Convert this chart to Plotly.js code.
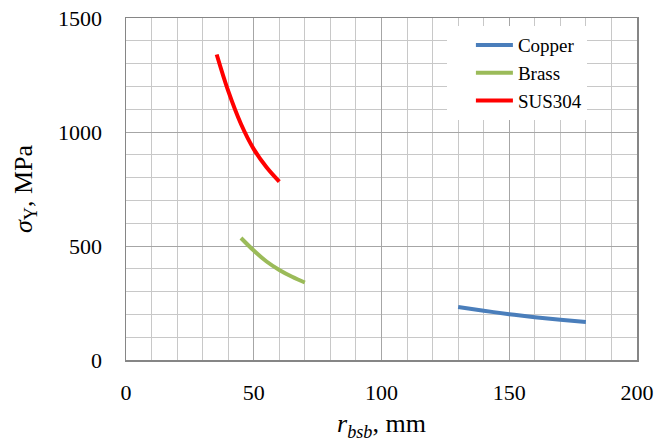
<!DOCTYPE html>
<html><head><meta charset="utf-8">
<script src="https://cdn.plot.ly/plotly-3.0.1.min.js"></script>
<style>body{margin:0;background:#fff}#c{width:657px;height:444px}</style>
</head><body><div id="c"></div>
<script>
const seriesNames = ["Copper", "Brass", "SUS304"];
const copperX = [130, 140, 150, 160, 170, 180];
const copperY = [232, 216, 201, 188, 177, 167];
const brassX = [45, 50, 55, 60, 65, 70];
const brassY = [535, 480, 432, 395, 365, 340];
const susX = [35.5, 40, 45, 50, 55, 60];
const susY = [1340, 1180, 1035, 925, 845, 782];
const xTicks = [0, 50, 100, 150, 200];
const yTicks = [0, 500, 1000, 1500];

const colors = ["#4a7ebb", "#9bbb59", "#ff0000"];
const xs = [copperX, brassX, susX], ys = [copperY, brassY, susY];
const data = xs.map((x, i) => ({
  x: x, y: ys[i], name: seriesNames[i], type: "scatter", mode: "lines",
  line: {color: colors[i], width: 4, shape: "spline"}
}));
const FAM = "Liberation Serif";
const f = (s) => ({family: FAM, size: s, color: "#000"});
const layout = {
  width: 657, height: 444,
  margin: {l: 126, r: 20, t: 18, b: 84},
  paper_bgcolor: "#fff", plot_bgcolor: "#fff",
  font: f(22),
  showlegend: true,
  legend: {x: 0.628, y: 0.976, xanchor: "left", yanchor: "top", bgcolor: "#fff",
    borderwidth: 0, font: f(19), itemwidth: 37, indentation: 24,
    traceorder: "normal"},
  xaxis: {range: [0, 200], tickvals: xTicks, ticktext: xTicks.map(String),
    showgrid: true, gridcolor: "#a6a6a6", gridwidth: 1,
    minor: {dtick: 10, showgrid: true, gridcolor: "#c8c8c8", gridwidth: 1},
    showline: true, linecolor: "#868686", linewidth: 1.5, mirror: true,
    zeroline: false, ticks: "", ticklabelstandoff: 12,
    tickfont: f(22),
    title: {text: "<i>r</i><sub><i>bsb</i></sub>, mm", font: f(26), standoff: 10}},
  yaxis: {range: [0, 1500], tickvals: yTicks, ticktext: yTicks.map(String),
    showgrid: true, gridcolor: "#a6a6a6", gridwidth: 1,
    minor: {dtick: 100, showgrid: true, gridcolor: "#c8c8c8", gridwidth: 1},
    showline: true, linecolor: "#868686", linewidth: 1.5, mirror: true,
    zeroline: false, ticks: "", ticklabelstandoff: 18,
    tickfont: f(22),
    title: {text: "<i>σ</i><sub>Y</sub>, MPa", font: f(26), standoff: 18}}
};
Plotly.newPlot("c", data, layout, {staticPlot: true});
</script></body></html>
